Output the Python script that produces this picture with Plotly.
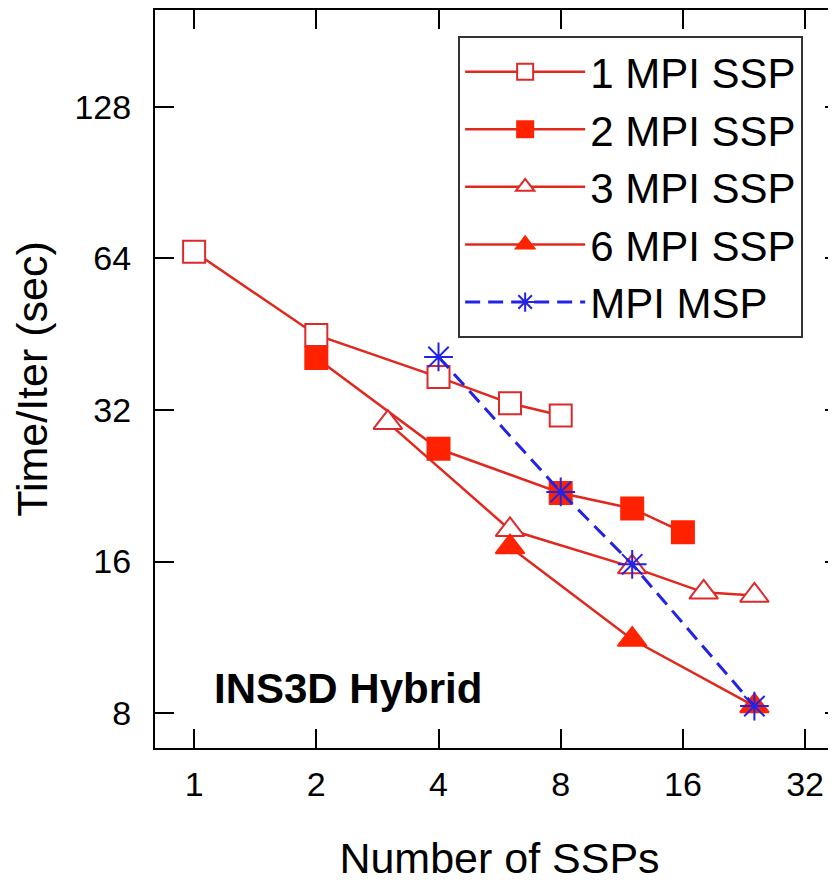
import plotly.graph_objects as go
import numpy as np

# ---- data ----
ssp_1mpi = [1, 2, 4, 6, 8]
t_1mpi = [66.0, 45.1, 37.2, 33.0, 31.2]

ssp_2mpi = [2, 4, 8, 12, 16]
t_2mpi = [40.6, 26.8, 21.9, 20.4, 18.3]

ssp_3mpi = [3, 6, 12, 18, 24]
t_3mpi = [30.2, 18.5, 15.6, 13.9, 13.7]

ssp_6mpi = [6, 12, 24]
t_6mpi = [17.1, 11.2, 8.26]

ssp_msp = [4, 8, 12, 24]
t_msp = [40.8, 22.0, 15.8, 8.26]

x_ticks = [1, 2, 4, 8, 16, 32]
y_ticks = [8, 16, 32, 64, 128]

RED_LINE = "#e2271d"
RED_OPEN = "#dc2a2a"
RED_FILL = "#ff2200"
BLUE = "#2323e6"
FONT = "Liberation Sans"

fig = go.Figure()

series = [
    ("1 MPI SSP", ssp_1mpi, t_1mpi, "square", "white", RED_OPEN, 22),
    ("2 MPI SSP", ssp_2mpi, t_2mpi, "square", RED_FILL, RED_FILL, 22),
    ("3 MPI SSP", ssp_3mpi, t_3mpi, "triangle-up", "white", RED_OPEN, 25),
    ("6 MPI SSP", ssp_6mpi, t_6mpi, "triangle-up", RED_FILL, RED_FILL, 25),
]
for name, xs, ys, sym, fill, edge, size in series:
    fig.add_trace(go.Scatter(
        x=xs, y=ys, name=name, mode="lines+markers",
        line=dict(color=RED_LINE, width=2.5),
        marker=dict(symbol=sym, size=size, color=fill, line=dict(color=edge, width=2)),
    ))

fig.add_trace(go.Scatter(
    x=ssp_msp, y=t_msp, name="MPI MSP", mode="lines+markers",
    line=dict(color=BLUE, width=3, dash="15px,8px"),
    marker=dict(symbol="asterisk-open", size=24, color=BLUE, line=dict(color=BLUE, width=2)),
))

fig.add_annotation(
    x=0.083, y=0.081, xref="paper", yref="paper", xanchor="left", yanchor="middle",
    text="<b>INS3D Hybrid</b>", showarrow=False,
    font=dict(family=FONT, size=42, color="black"),
)

axis_common = dict(
    type="log", showgrid=False, zeroline=False,
    showline=True, linecolor="black", linewidth=2, mirror="ticks",
    ticks="inside", ticklen=19, tickwidth=2, tickcolor="black",
    tickfont=dict(family=FONT, size=34, color="black"),
)

fig.update_xaxes(
    **axis_common,
    range=[np.log10(0.801), np.log10(39.9)],
    tickvals=x_ticks, ticktext=[str(v) for v in x_ticks],
    ticklabelstandoff=5,
    title=dict(text="Number of SSPs", font=dict(family=FONT, size=43, color="black"), standoff=41),
)
fig.update_yaxes(
    **axis_common,
    range=[np.log10(6.82), np.log10(199.4)],
    tickvals=y_ticks, ticktext=[str(v) for v in y_ticks],
    ticklabelstandoff=15,
    title=dict(text="Time/Iter (sec)", font=dict(family=FONT, size=43, color="black"), standoff=17),
)

fig.update_layout(
    width=836, height=884,
    margin=dict(l=147, r=0, t=2, b=144, autoexpand=False),
    plot_bgcolor="white", paper_bgcolor="white",
    legend=dict(
        x=0.44, y=0.965, xanchor="left", yanchor="top",
        bordercolor="#333333", borderwidth=2, bgcolor="white",
        font=dict(family=FONT, size=42, color="black"),
        itemwidth=120,
    ),
)

fig.write_html("out.html")
